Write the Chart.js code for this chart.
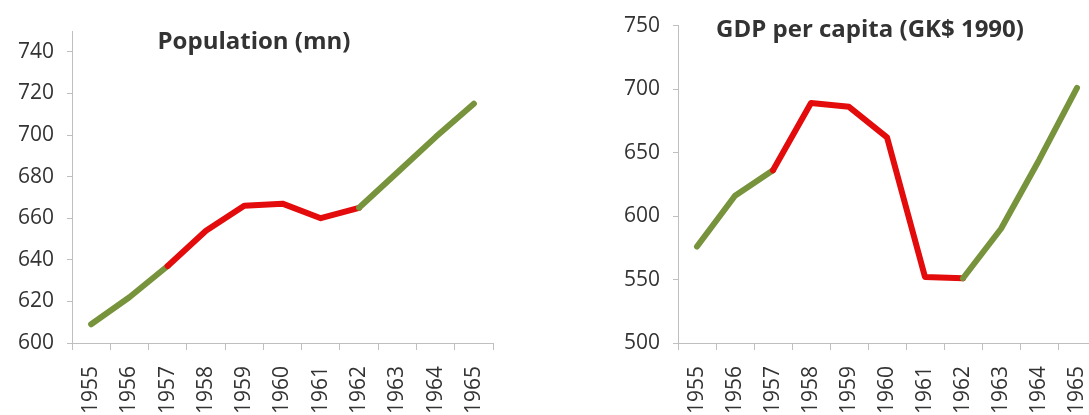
<!DOCTYPE html>
<html>
<head>
<meta charset="utf-8">
<script src="https://cdn.jsdelivr.net/npm/chart.js@4"></script>
<style>
  body { margin: 0; background: #fff; overflow: hidden; width: 1089px; height: 415px; position: relative; }
  .box { position: absolute; top: 0; height: 415px; }
  #popBox { left: 0; width: 540px; }
  #gdpBox { left: 560px; width: 560px; }
</style>
</head>
<body>
<div class="box" id="popBox"><canvas id="popChart" width="540" height="415"></canvas></div>
<div class="box" id="gdpBox"><canvas id="gdpChart" width="560" height="415"></canvas></div>
<script>
const years = ['1955', '1956', '1957', '1958', '1959', '1960', '1961', '1962', '1963', '1964', '1965'];
const population = [609, 622, 637, 654, 666, 667, 660, 665, 682, 699, 715];
const gdpPerCapita = [576, 616, 636, 689, 686, 662, 552, 551, 590, 644, 701];
// годы, которые рисуются красным (1957 -> 1962)
const crisisYears = ['1957', '1962'];
const popTicks = [600, 620, 640, 660, 680, 700, 720, 740];
const gdpTicks = [500, 550, 600, 650, 700, 750];
const axisMax = 750;

const GREEN = '#77933c';
const RED = '#e30b0b';
const AXIS = '#bfbfbf';
const TEXT = '#333333';
const FONT = "'Open Sans', sans-serif";

const redFrom = years.indexOf(crisisYears[0]);
const redTo = years.indexOf(crisisYears[1]);

// заголовок внутри области графика, как в Excel
const titlePlugin = {
    id: 'innerTitle',
    afterDraw(chart, args, opts) {
        const ctx = chart.ctx;
        ctx.save();
        ctx.font = 'bold 24px ' + FONT;
        ctx.fillStyle = TEXT;
        ctx.textAlign = 'center';
        ctx.textBaseline = 'alphabetic';
        ctx.fillText(opts.text, opts.x, opts.y);
        ctx.restore();
    }
};

function makeChart(id, values, tickList, cfg) {
    const ctx = document.getElementById(id);

    return new Chart(ctx, {
        type: 'line',
        data: {
            labels: years,
            datasets: [{
                data: values,
                borderWidth: 6,
                borderCapStyle: 'round',
                borderJoinStyle: 'round',
                pointRadius: 0,
                tension: 0,
                borderColor: GREEN,
                segment: {
                    borderColor: c => (c.p0DataIndex >= redFrom && c.p1DataIndex <= redTo) ? RED : GREEN
                }
            }]
        },
        options: {
            responsive: false,
            animation: false,
            layout: { padding: cfg.padding },
            plugins: {
                legend: { display: false },
                tooltip: { enabled: false },
                innerTitle: { text: cfg.title, x: cfg.titleX, y: cfg.titleY }
            },
            scales: {
                x: {
                    type: 'category',
                    offset: true,
                    grid: { offset: true, drawOnChartArea: false, drawTicks: true, tickLength: 7, color: AXIS },
                    border: { color: AXIS, width: 1 },
                    ticks: {
                        autoSkip: false,
                        minRotation: 90,
                        maxRotation: 90,
                        padding: 16,
                        color: TEXT,
                        font: { family: FONT, size: 21 }
                    },
                    afterFit: s => { s.height = 72; }
                },
                y: {
                    min: tickList[0],
                    max: axisMax,
                    grid: { drawOnChartArea: false, drawTicks: true, tickLength: 5, color: AXIS },
                    border: { color: AXIS, width: 1 },
                    ticks: {
                        autoSkip: false,
                        padding: 13,
                        color: TEXT,
                        font: { family: FONT, size: 21 }
                    },
                    afterBuildTicks: s => { s.ticks = tickList.map(v => ({ value: v })); },
                    afterFit: s => { s.width = cfg.yWidth; }
                }
            }
        },
        plugins: [titlePlugin]
    });
}

makeChart('popChart', population, popTicks, {
    title: 'Population (mn)',
    titleX: 254, titleY: 49,
    yWidth: 72,
    padding: { top: 31, right: 47, left: 0, bottom: 0 }
});

makeChart('gdpChart', gdpPerCapita, gdpTicks, {
    title: 'GDP per capita (GK$ 1990)',
    titleX: 310, titleY: 37,
    yWidth: 118,
    padding: { top: 17, right: 24, left: 0, bottom: 0 }
});
</script>
</body>
</html>
